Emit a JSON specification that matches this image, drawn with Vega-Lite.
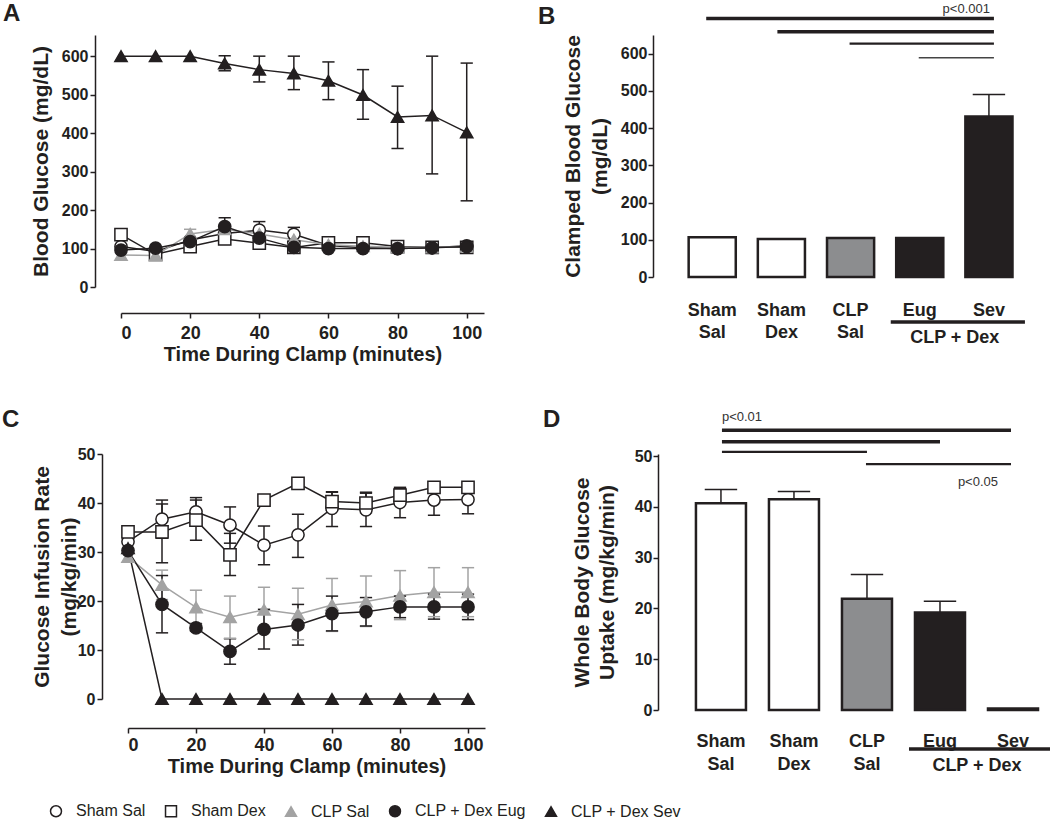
{
  "$schema": "https://vega.github.io/schema/vega-lite/v6.json",
  "padding": {"left": 2, "top": 2, "right": 0, "bottom": 0},
  "background": "white",
  "bounds": "flush",
  "columns": 2,
  "spacing": {"row": 167, "column": 168},
  "config": {
    "font": "Liberation Sans",
    "view": {"stroke": null},
    "axis": {"labelFont": "Liberation Sans", "titleFont": "Liberation Sans", "labelFontWeight": "bold", "titleFontWeight": "bold", "labelColor": "#231f20", "titleColor": "#231f20", "domainColor": "#231f20", "tickColor": "#231f20", "grid": false, "domainWidth": 1.5, "tickWidth": 1.5, "tickSize": 5, "labelFontSize": 16, "titleFontSize": 21},
    "title": {"fontSize": 24, "fontWeight": "bold", "anchor": "start", "frame": "group", "offset": 0, "baseline": "alphabetic", "color": "#231f20", "font": "Liberation Sans"}
  },
  "datasets": {
    "ts": [
      {"panel": "A", "group": "Sham Sal", "t": 0, "v": 105},
      {"panel": "A", "group": "Sham Sal", "t": 10, "v": 92},
      {"panel": "A", "group": "Sham Sal", "t": 20, "v": 122},
      {"panel": "A", "group": "Sham Sal", "t": 30, "v": 139},
      {"panel": "A", "group": "Sham Sal", "t": 40, "v": 148, "lo": 126, "hi": 170},
      {"panel": "A", "group": "Sham Sal", "t": 50, "v": 137, "lo": 119, "hi": 155},
      {"panel": "A", "group": "Sham Sal", "t": 60, "v": 108},
      {"panel": "A", "group": "Sham Sal", "t": 70, "v": 102},
      {"panel": "A", "group": "Sham Sal", "t": 80, "v": 100},
      {"panel": "A", "group": "Sham Sal", "t": 90, "v": 102},
      {"panel": "A", "group": "Sham Sal", "t": 100, "v": 107},
      {"panel": "A", "group": "Sham Dex", "t": 0, "v": 136},
      {"panel": "A", "group": "Sham Dex", "t": 10, "v": 85},
      {"panel": "A", "group": "Sham Dex", "t": 20, "v": 105},
      {"panel": "A", "group": "Sham Dex", "t": 30, "v": 125},
      {"panel": "A", "group": "Sham Dex", "t": 40, "v": 114},
      {"panel": "A", "group": "Sham Dex", "t": 50, "v": 103},
      {"panel": "A", "group": "Sham Dex", "t": 60, "v": 115},
      {"panel": "A", "group": "Sham Dex", "t": 70, "v": 115},
      {"panel": "A", "group": "Sham Dex", "t": 80, "v": 105},
      {"panel": "A", "group": "Sham Dex", "t": 90, "v": 103},
      {"panel": "A", "group": "Sham Dex", "t": 100, "v": 103},
      {"panel": "A", "group": "CLP Sal", "t": 0, "v": 83},
      {"panel": "A", "group": "CLP Sal", "t": 10, "v": 82},
      {"panel": "A", "group": "CLP Sal", "t": 20, "v": 138, "lo": 126, "hi": 150},
      {"panel": "A", "group": "CLP Sal", "t": 30, "v": 150},
      {"panel": "A", "group": "CLP Sal", "t": 40, "v": 138},
      {"panel": "A", "group": "CLP Sal", "t": 50, "v": 123},
      {"panel": "A", "group": "CLP Sal", "t": 60, "v": 110},
      {"panel": "A", "group": "CLP Sal", "t": 70, "v": 106},
      {"panel": "A", "group": "CLP Sal", "t": 80, "v": 103},
      {"panel": "A", "group": "CLP Sal", "t": 90, "v": 103},
      {"panel": "A", "group": "CLP Sal", "t": 100, "v": 105},
      {"panel": "A", "group": "CLP + Dex Eug", "t": 0, "v": 96},
      {"panel": "A", "group": "CLP + Dex Eug", "t": 10, "v": 101},
      {"panel": "A", "group": "CLP + Dex Eug", "t": 20, "v": 118},
      {"panel": "A", "group": "CLP + Dex Eug", "t": 30, "v": 157, "lo": 134, "hi": 180},
      {"panel": "A", "group": "CLP + Dex Eug", "t": 40, "v": 127},
      {"panel": "A", "group": "CLP + Dex Eug", "t": 50, "v": 103},
      {"panel": "A", "group": "CLP + Dex Eug", "t": 60, "v": 100},
      {"panel": "A", "group": "CLP + Dex Eug", "t": 70, "v": 100},
      {"panel": "A", "group": "CLP + Dex Eug", "t": 80, "v": 100},
      {"panel": "A", "group": "CLP + Dex Eug", "t": 90, "v": 102},
      {"panel": "A", "group": "CLP + Dex Eug", "t": 100, "v": 105},
      {"panel": "A", "group": "CLP + Dex Sev", "t": 0, "v": 600},
      {"panel": "A", "group": "CLP + Dex Sev", "t": 10, "v": 600},
      {"panel": "A", "group": "CLP + Dex Sev", "t": 20, "v": 600},
      {"panel": "A", "group": "CLP + Dex Sev", "t": 30, "v": 581, "lo": 562, "hi": 601},
      {"panel": "A", "group": "CLP + Dex Sev", "t": 40, "v": 565, "lo": 533, "hi": 600},
      {"panel": "A", "group": "CLP + Dex Sev", "t": 50, "v": 555, "lo": 513, "hi": 600},
      {"panel": "A", "group": "CLP + Dex Sev", "t": 60, "v": 536, "lo": 487, "hi": 585},
      {"panel": "A", "group": "CLP + Dex Sev", "t": 70, "v": 499, "lo": 436, "hi": 565},
      {"panel": "A", "group": "CLP + Dex Sev", "t": 80, "v": 442, "lo": 360, "hi": 522},
      {"panel": "A", "group": "CLP + Dex Sev", "t": 90, "v": 446, "lo": 294, "hi": 600},
      {"panel": "A", "group": "CLP + Dex Sev", "t": 100, "v": 402, "lo": 224, "hi": 582},

      {"panel": "C", "group": "Sham Sal", "t": 0, "v": 32.1},
      {"panel": "C", "group": "Sham Sal", "t": 10, "v": 36.7, "lo": 32.8, "hi": 40.6},
      {"panel": "C", "group": "Sham Sal", "t": 20, "v": 38.2, "lo": 35.4, "hi": 41.1},
      {"panel": "C", "group": "Sham Sal", "t": 30, "v": 35.5, "lo": 31.8, "hi": 39.2},
      {"panel": "C", "group": "Sham Sal", "t": 40, "v": 31.4, "lo": 27.4, "hi": 35.3},
      {"panel": "C", "group": "Sham Sal", "t": 50, "v": 33.5, "lo": 28.9, "hi": 37.7},
      {"panel": "C", "group": "Sham Sal", "t": 60, "v": 38.9, "lo": 35.2, "hi": 42.3},
      {"panel": "C", "group": "Sham Sal", "t": 70, "v": 38.6, "lo": 35.2, "hi": 42.2},
      {"panel": "C", "group": "Sham Sal", "t": 80, "v": 40.1, "lo": 37.0, "hi": 43.0},
      {"panel": "C", "group": "Sham Sal", "t": 90, "v": 40.6, "lo": 37.5, "hi": 43.5},
      {"panel": "C", "group": "Sham Sal", "t": 100, "v": 40.7, "lo": 37.8, "hi": 43.5},
      {"panel": "C", "group": "Sham Dex", "t": 0, "v": 34.1},
      {"panel": "C", "group": "Sham Dex", "t": 10, "v": 34.1, "lo": 27.8, "hi": 39.8},
      {"panel": "C", "group": "Sham Dex", "t": 20, "v": 36.5, "lo": 32.4, "hi": 40.6},
      {"panel": "C", "group": "Sham Dex", "t": 30, "v": 29.4, "lo": 25.2, "hi": 33.8},
      {"panel": "C", "group": "Sham Dex", "t": 40, "v": 40.6},
      {"panel": "C", "group": "Sham Dex", "t": 50, "v": 44.0},
      {"panel": "C", "group": "Sham Dex", "t": 60, "v": 40.3, "lo": 38.5, "hi": 42.2},
      {"panel": "C", "group": "Sham Dex", "t": 70, "v": 40.0, "lo": 38.0, "hi": 42.0},
      {"panel": "C", "group": "Sham Dex", "t": 80, "v": 41.6, "lo": 40.0, "hi": 43.2},
      {"panel": "C", "group": "Sham Dex", "t": 90, "v": 43.2},
      {"panel": "C", "group": "Sham Dex", "t": 100, "v": 43.2},
      {"panel": "C", "group": "CLP Sal", "t": 0, "v": 29.0},
      {"panel": "C", "group": "CLP Sal", "t": 10, "v": 23.3, "lo": 20.3, "hi": 26.3},
      {"panel": "C", "group": "CLP Sal", "t": 20, "v": 18.7, "lo": 15.2, "hi": 22.2},
      {"panel": "C", "group": "CLP Sal", "t": 30, "v": 16.7, "lo": 12.4, "hi": 21.0},
      {"panel": "C", "group": "CLP Sal", "t": 40, "v": 18.2, "lo": 13.6, "hi": 22.8},
      {"panel": "C", "group": "CLP Sal", "t": 50, "v": 17.3, "lo": 12.1, "hi": 22.6},
      {"panel": "C", "group": "CLP Sal", "t": 60, "v": 19.2, "lo": 13.8, "hi": 24.6},
      {"panel": "C", "group": "CLP Sal", "t": 70, "v": 19.9, "lo": 14.8, "hi": 25.1},
      {"panel": "C", "group": "CLP Sal", "t": 80, "v": 21.1, "lo": 16.2, "hi": 26.2},
      {"panel": "C", "group": "CLP Sal", "t": 90, "v": 21.8, "lo": 16.8, "hi": 26.8},
      {"panel": "C", "group": "CLP Sal", "t": 100, "v": 21.8, "lo": 16.8, "hi": 26.8},
      {"panel": "C", "group": "CLP + Dex Eug", "t": 0, "v": 30.3},
      {"panel": "C", "group": "CLP + Dex Eug", "t": 10, "v": 19.3, "lo": 13.5, "hi": 25.2},
      {"panel": "C", "group": "CLP + Dex Eug", "t": 20, "v": 14.5, "lo": 13.9, "hi": 15.4},
      {"panel": "C", "group": "CLP + Dex Eug", "t": 30, "v": 9.7, "lo": 7.1, "hi": 12.3},
      {"panel": "C", "group": "CLP + Dex Eug", "t": 40, "v": 14.2, "lo": 10.2, "hi": 18.3},
      {"panel": "C", "group": "CLP + Dex Eug", "t": 50, "v": 15.1, "lo": 11.0, "hi": 19.3},
      {"panel": "C", "group": "CLP + Dex Eug", "t": 60, "v": 17.4, "lo": 13.9, "hi": 21.0},
      {"panel": "C", "group": "CLP + Dex Eug", "t": 70, "v": 17.8, "lo": 14.9, "hi": 20.7},
      {"panel": "C", "group": "CLP + Dex Eug", "t": 80, "v": 18.8, "lo": 16.6, "hi": 21.0},
      {"panel": "C", "group": "CLP + Dex Eug", "t": 90, "v": 18.8, "lo": 16.3, "hi": 21.4},
      {"panel": "C", "group": "CLP + Dex Eug", "t": 100, "v": 18.8, "lo": 16.2, "hi": 21.4},
      {"panel": "C", "group": "CLP + Dex Sev", "t": 0, "v": 30.8},
      {"panel": "C", "group": "CLP + Dex Sev", "t": 10, "v": 0},
      {"panel": "C", "group": "CLP + Dex Sev", "t": 20, "v": 0},
      {"panel": "C", "group": "CLP + Dex Sev", "t": 30, "v": 0},
      {"panel": "C", "group": "CLP + Dex Sev", "t": 40, "v": 0},
      {"panel": "C", "group": "CLP + Dex Sev", "t": 50, "v": 0},
      {"panel": "C", "group": "CLP + Dex Sev", "t": 60, "v": 0},
      {"panel": "C", "group": "CLP + Dex Sev", "t": 70, "v": 0},
      {"panel": "C", "group": "CLP + Dex Sev", "t": 80, "v": 0},
      {"panel": "C", "group": "CLP + Dex Sev", "t": 90, "v": 0},
      {"panel": "C", "group": "CLP + Dex Sev", "t": 100, "v": 0}
    ],
    "bars": [
      {"panel": "B", "cat": "Sham Sal", "v": 107},
      {"panel": "B", "cat": "Sham Dex", "v": 102},
      {"panel": "B", "cat": "CLP Sal", "v": 105},
      {"panel": "B", "cat": "Eug", "v": 105},
      {"panel": "B", "cat": "Sev", "v": 431, "hi": 490},
      {"panel": "D", "cat": "Sham Sal", "v": 40.7, "hi": 43.4},
      {"panel": "D", "cat": "Sham Dex", "v": 41.5, "hi": 43.0},
      {"panel": "D", "cat": "CLP Sal", "v": 21.9, "hi": 26.7},
      {"panel": "D", "cat": "Eug", "v": 19.2, "hi": 21.4},
      {"panel": "D", "cat": "Sev", "v": 0.3}
    ]
  },
  "resolve": {"scale": {"shape": "independent", "fill": "independent", "stroke": "independent", "x": "independent", "y": "independent"}},
  "concat": [
    {
      "width": 390, "height": 252,
      "title": {"text": "A", "dx": -92, "dy": -5},
      "data": {"name": "ts"},
      "transform": [{"filter": "datum.panel == 'A'"}],
      "encoding": {
        "x": {"field": "t", "type": "quantitative", "scale": {"domain": [0, 105], "range": [26, 389], "nice": false, "zero": false},
              "axis": {"values": [0, 20, 40, 60, 80, 100], "offset": 26, "title": "Time During Clamp (minutes)", "labelFontSize": 18, "titleFontSize": 20, "labelPadding": 6, "titlePadding": 2}}
      },
      "layer": [
        {"mark": {"type": "line", "strokeWidth": 1.5},
         "encoding": {"y": {"field": "v", "type": "quantitative", "scale": {"domain": [0, 655], "nice": false}, "axis": {"values": [0, 100, 200, 300, 400, 500, 600], "title": "Blood  Glucose (mg/dL)", "labelPadding": 2, "titlePadding": 10}},
                      "stroke": {"field": "group", "type": "nominal", "scale": {"domain": ["Sham Sal", "Sham Dex", "CLP Sal", "CLP + Dex Eug", "CLP + Dex Sev"], "range": ["#231f20", "#231f20", "#a3a3a3", "#231f20", "#231f20"]}, "legend": null}}},
        {"transform": [{"filter": "isValid(datum.hi)"}], "mark": {"type": "rule", "strokeWidth": 1.5},
         "encoding": {"y": {"field": "lo", "type": "quantitative"}, "y2": {"field": "hi"}, "stroke": {"field": "group", "type": "nominal", "legend": null}}},
        {"transform": [{"filter": "isValid(datum.hi)"}], "mark": {"type": "point", "shape": "M-1,0L1,0", "size": 150, "strokeWidth": 1.5, "opacity": 1},
         "encoding": {"y": {"field": "hi", "type": "quantitative"}, "stroke": {"field": "group", "type": "nominal", "legend": null}}},
        {"transform": [{"filter": "isValid(datum.hi)"}], "mark": {"type": "point", "shape": "M-1,0L1,0", "size": 150, "strokeWidth": 1.5, "opacity": 1},
         "encoding": {"y": {"field": "lo", "type": "quantitative"}, "stroke": {"field": "group", "type": "nominal", "legend": null}}},
        {"mark": {"type": "point", "size": 150, "strokeWidth": 1.5, "opacity": 1},
         "encoding": {"y": {"field": "v", "type": "quantitative"},
                      "shape": {"field": "group", "type": "nominal", "scale": {"domain": ["Sham Sal", "Sham Dex", "CLP Sal", "CLP + Dex Eug", "CLP + Dex Sev"], "range": ["circle", "square", "triangle-up", "circle", "triangle-up"]}, "legend": null},
                      "fill": {"field": "group", "type": "nominal", "scale": {"domain": ["Sham Sal", "Sham Dex", "CLP Sal", "CLP + Dex Eug", "CLP + Dex Sev"], "range": ["#ffffff", "#ffffff", "#a3a3a3", "#231f20", "#231f20"]}, "legend": null},
                      "stroke": {"field": "group", "type": "nominal", "legend": null}}}
      ]
    },
    {
      "width": 367, "height": 242,
      "title": {"text": "B", "dx": -115, "dy": 30},
      "data": {"name": "bars"},
      "transform": [{"filter": "datum.panel == 'B'"}],
      "encoding": {
        "x": {"field": "cat", "type": "nominal", "sort": null, "scale": {"domain": ["Sham Sal", "Sham Dex", "CLP Sal", "Eug", "Sev"], "paddingInner": 0.319, "paddingOuter": 0.312, "align": 0.826},
              "axis": {"title": null, "domain": false, "ticks": false, "labelAngle": 0, "labelFontSize": 18, "labelPadding": 24, "labelBaseline": "top", "labelLineHeight": 22, "labelExpr": "split(datum.label, ' ')"}}
      },
      "layer": [
        {"mark": {"type": "bar", "stroke": "#231f20", "strokeWidth": 2.5},
         "encoding": {"y": {"field": "v", "type": "quantitative", "scale": {"domain": [0, 650], "nice": false}, "axis": {"values": [0, 100, 200, 300, 400, 500, 600], "title": ["Clamped Blood Glucose", "(mg/dL)"], "labelPadding": 1, "titlePadding": 10, "titleLineHeight": 27}},
                      "fill": {"field": "cat", "type": "nominal", "scale": {"domain": ["Sham Sal", "Sham Dex", "CLP Sal", "Eug", "Sev"], "range": ["#ffffff", "#ffffff", "#8c8d8f", "#231f20", "#231f20"]}, "legend": null}}},
        {"transform": [{"filter": "isValid(datum.hi)"}], "mark": {"type": "rule", "strokeWidth": 1.5, "color": "#231f20"},
         "encoding": {"y": {"field": "v", "type": "quantitative"}, "y2": {"field": "hi"}}},
        {"transform": [{"filter": "isValid(datum.hi)"}], "mark": {"type": "point", "shape": "M-1,0L1,0", "size": 1050, "strokeWidth": 1.5, "opacity": 1, "color": "#231f20"},
         "encoding": {"y": {"field": "hi", "type": "quantitative"}}},
        {"data": {"values": [{}]}, "mark": {"type": "rule", "strokeWidth": 3.5, "color": "#231f20", "xOffset": -6, "x2Offset": 5}, "encoding": {"x": {"datum": "Sham Sal"}, "x2": {"datum": "Sev"}, "y": {"datum": 694}}},
        {"data": {"values": [{}]}, "mark": {"type": "rule", "strokeWidth": 3.5, "color": "#231f20", "xOffset": -4, "x2Offset": 5}, "encoding": {"x": {"datum": "Sham Dex"}, "x2": {"datum": "Sev"}, "y": {"datum": 659}}},
        {"data": {"values": [{}]}, "mark": {"type": "rule", "strokeWidth": 2.2, "color": "#231f20", "xOffset": -1, "x2Offset": 5}, "encoding": {"x": {"datum": "CLP Sal"}, "x2": {"datum": "Sev"}, "y": {"datum": 627}}},
        {"data": {"values": [{}]}, "mark": {"type": "rule", "strokeWidth": 1.4, "color": "#444444", "xOffset": -1, "x2Offset": 5}, "encoding": {"x": {"datum": "Eug"}, "x2": {"datum": "Sev"}, "y": {"datum": 589}}},
        {"data": {"values": [{}]}, "mark": {"type": "text", "text": "p<0.001", "fontSize": 13, "align": "right", "baseline": "middle", "color": "#333333", "xOffset": 1}, "encoding": {"x": {"datum": "Sev"}, "y": {"datum": 721}}},
        {"data": {"values": [{}]}, "mark": {"type": "rule", "strokeWidth": 3.5, "color": "#231f20", "xOffset": -29, "x2Offset": 36}, "encoding": {"x": {"datum": "Eug"}, "x2": {"datum": "Sev"}, "y": {"datum": -121}}},
        {"data": {"values": [{}]}, "mark": {"type": "text", "text": "CLP + Dex", "fontSize": 18, "fontWeight": "bold", "align": "center", "baseline": "middle", "color": "#231f20", "xOffset": 35}, "encoding": {"x": {"datum": "Eug"}, "y": {"datum": -164}}}
      ]
    },
    {
      "width": 390, "height": 245,
      "title": {"text": "C", "dx": -93, "dy": -10},
      "data": {"name": "ts"},
      "transform": [{"filter": "datum.panel == 'C'"}],
      "encoding": {
        "x": {"field": "t", "type": "quantitative", "scale": {"domain": [0, 105], "range": [33, 390], "nice": false, "zero": false},
              "axis": {"values": [0, 20, 40, 60, 80, 100], "offset": 29, "title": "Time During Clamp (minutes)", "labelFontSize": 18, "titleFontSize": 20, "labelPadding": 3, "titlePadding": 2}}
      },
      "layer": [
        {"mark": {"type": "line", "strokeWidth": 1.5},
         "encoding": {"y": {"field": "v", "type": "quantitative", "scale": {"domain": [0, 50], "nice": false}, "axis": {"values": [0, 10, 20, 30, 40, 50], "offset": -7, "title": ["Glucose Infusion  Rate", "(mg/kg/min)"], "labelPadding": 2, "titlePadding": -2, "titleLineHeight": 27}},
                      "stroke": {"field": "group", "type": "nominal", "scale": {"domain": ["Sham Sal", "Sham Dex", "CLP Sal", "CLP + Dex Eug", "CLP + Dex Sev"], "range": ["#231f20", "#231f20", "#a3a3a3", "#231f20", "#231f20"]}, "legend": {"orient": "none", "legendX": -47, "legendY": 349, "direction": "horizontal", "title": null, "labelFontSize": 16, "labelColor": "#231f20", "labelFont": "Liberation Sans", "symbolSize": 120, "symbolStrokeWidth": 1.5, "columnPadding": 16, "labelOffset": 12}}}},
        {"transform": [{"filter": "isValid(datum.hi)"}], "mark": {"type": "rule", "strokeWidth": 1.5},
         "encoding": {"y": {"field": "lo", "type": "quantitative"}, "y2": {"field": "hi"}, "stroke": {"field": "group", "type": "nominal"}}},
        {"transform": [{"filter": "isValid(datum.hi)"}], "mark": {"type": "point", "shape": "M-1,0L1,0", "size": 150, "strokeWidth": 1.5, "opacity": 1},
         "encoding": {"y": {"field": "hi", "type": "quantitative"}, "stroke": {"field": "group", "type": "nominal"}}},
        {"transform": [{"filter": "isValid(datum.hi)"}], "mark": {"type": "point", "shape": "M-1,0L1,0", "size": 150, "strokeWidth": 1.5, "opacity": 1},
         "encoding": {"y": {"field": "lo", "type": "quantitative"}, "stroke": {"field": "group", "type": "nominal"}}},
        {"mark": {"type": "point", "size": 150, "strokeWidth": 1.5, "opacity": 1},
         "encoding": {"y": {"field": "v", "type": "quantitative"},
                      "shape": {"field": "group", "type": "nominal", "scale": {"domain": ["Sham Sal", "Sham Dex", "CLP Sal", "CLP + Dex Eug", "CLP + Dex Sev"], "range": ["circle", "square", "triangle-up", "circle", "triangle-up"]}, "legend": {"orient": "none", "legendX": -47, "legendY": 349, "direction": "horizontal", "title": null, "labelFontSize": 16, "labelColor": "#231f20", "labelFont": "Liberation Sans", "symbolSize": 120, "symbolStrokeWidth": 1.5, "columnPadding": 16, "labelOffset": 12}},
                      "fill": {"field": "group", "type": "nominal", "scale": {"domain": ["Sham Sal", "Sham Dex", "CLP Sal", "CLP + Dex Eug", "CLP + Dex Sev"], "range": ["#ffffff", "#ffffff", "#a3a3a3", "#231f20", "#231f20"]}, "legend": {"orient": "none", "legendX": -47, "legendY": 349, "direction": "horizontal", "title": null, "labelFontSize": 16, "labelColor": "#231f20", "labelFont": "Liberation Sans", "symbolSize": 120, "symbolStrokeWidth": 1.5, "columnPadding": 16, "labelOffset": 12}},
                      "stroke": {"field": "group", "type": "nominal"}}}
      ]
    },
    {
      "width": 392, "height": 256,
      "title": {"text": "D", "dx": -110, "dy": 25},
      "data": {"name": "bars"},
      "transform": [{"filter": "datum.panel == 'D'"}],
      "encoding": {
        "x": {"field": "cat", "type": "nominal", "sort": null, "scale": {"domain": ["Sham Sal", "Sham Dex", "CLP Sal", "Eug", "Sev"], "paddingInner": 0.315, "paddingOuter": 0.342, "align": 0.86},
              "axis": {"title": null, "domain": false, "ticks": false, "labelAngle": 0, "labelFontSize": 18, "labelPadding": 22, "labelBaseline": "top", "labelLineHeight": 23, "labelExpr": "split(datum.label, ' ')"}}
      },
      "layer": [
        {"mark": {"type": "bar", "stroke": "#231f20", "strokeWidth": 2.5},
         "encoding": {"y": {"field": "v", "type": "quantitative", "scale": {"domain": [0, 50.4], "nice": false}, "axis": {"values": [0, 10, 20, 30, 40, 50], "offset": -5, "title": ["Whole Body  Glucose", "Uptake (mg/kg/min)"], "labelPadding": 1, "titlePadding": 17, "titleLineHeight": 25}},
                      "fill": {"field": "cat", "type": "nominal", "scale": {"domain": ["Sham Sal", "Sham Dex", "CLP Sal", "Eug", "Sev"], "range": ["#ffffff", "#ffffff", "#8c8d8f", "#231f20", "#231f20"]}, "legend": null}}},
        {"transform": [{"filter": "isValid(datum.hi)"}], "mark": {"type": "rule", "strokeWidth": 1.5, "color": "#231f20"},
         "encoding": {"y": {"field": "v", "type": "quantitative"}, "y2": {"field": "hi"}}},
        {"transform": [{"filter": "isValid(datum.hi)"}], "mark": {"type": "point", "shape": "M-1,0L1,0", "size": 1050, "strokeWidth": 1.5, "opacity": 1, "color": "#231f20"},
         "encoding": {"y": {"field": "hi", "type": "quantitative"}}},
        {"data": {"values": [{}]}, "mark": {"type": "rule", "strokeWidth": 3.5, "color": "#231f20", "xOffset": 1, "x2Offset": -2}, "encoding": {"x": {"datum": "Sham Sal"}, "x2": {"datum": "Sev"}, "y": {"datum": 55.1}}},
        {"data": {"values": [{}]}, "mark": {"type": "rule", "strokeWidth": 3.5, "color": "#231f20", "xOffset": 1}, "encoding": {"x": {"datum": "Sham Sal"}, "x2": {"datum": "Eug"}, "y": {"datum": 52.8}}},
        {"data": {"values": [{}]}, "mark": {"type": "rule", "strokeWidth": 2.2, "color": "#231f20", "xOffset": 1}, "encoding": {"x": {"datum": "Sham Sal"}, "x2": {"datum": "CLP Sal"}, "y": {"datum": 50.8}}},
        {"data": {"values": [{}]}, "mark": {"type": "rule", "strokeWidth": 2.2, "color": "#231f20", "xOffset": -1, "x2Offset": -2}, "encoding": {"x": {"datum": "CLP Sal"}, "x2": {"datum": "Sev"}, "y": {"datum": 48.4}}},
        {"data": {"values": [{}]}, "mark": {"type": "text", "text": "p<0.01", "fontSize": 13, "align": "left", "baseline": "middle", "color": "#333333", "xOffset": 1}, "encoding": {"x": {"datum": "Sham Sal"}, "y": {"datum": 57.7}}},
        {"data": {"values": [{}]}, "mark": {"type": "text", "text": "p<0.05", "fontSize": 13, "align": "right", "baseline": "middle", "color": "#333333", "xOffset": -15}, "encoding": {"x": {"datum": "Sev"}, "y": {"datum": 44.9}}},
        {"data": {"values": [{}]}, "mark": {"type": "rule", "strokeWidth": 3.5, "color": "#231f20", "xOffset": -31, "x2Offset": 38}, "encoding": {"x": {"datum": "Eug"}, "x2": {"datum": "Sev"}, "y": {"datum": -7.7}}},
        {"data": {"values": [{}]}, "mark": {"type": "text", "text": "CLP + Dex", "fontSize": 18, "fontWeight": "bold", "align": "center", "baseline": "middle", "color": "#231f20", "xOffset": 37}, "encoding": {"x": {"datum": "Eug"}, "y": {"datum": -11.0}}}
      ]
    }
  ]
}
